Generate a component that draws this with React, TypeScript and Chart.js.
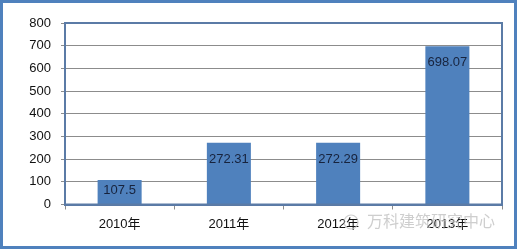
import React, { useEffect, useRef } from "react";
import { Chart, registerables } from "chart.js";

Chart.register(...registerables);

const categories = ["2010年", "2011年", "2012年", "2013年"];
const values = [107.5, 272.31, 272.29, 698.07];
const valueLabels = ["107.5", "272.31", "272.29", "698.07"];
const yTicks = [0, 100, 200, 300, 400, 500, 600, 700, 800];
const watermark = "万科建筑研究中心";

const FONT = '"Liberation Sans", "Noto Sans CJK SC", sans-serif';

const framePlugin = {
  id: "framePlugin",
  afterDatasetsDraw(chart: any) {
    const { ctx, chartArea } = chart;
    const meta = chart.getDatasetMeta(0);
    const base = chart.scales.y.getPixelForValue(0);
    ctx.save();
    ctx.font = `13px ${FONT}`;
    ctx.fillStyle = "#17233d";
    ctx.textAlign = "center";
    ctx.textBaseline = "middle";
    meta.data.forEach((bar: any, i: number) => {
      const y = Math.min(bar.y + 16.5, base - 14);
      ctx.fillText(valueLabels[i], bar.x, y);
    });
    ctx.restore();
  },
  afterDraw(chart: any) {
    const { ctx, chartArea } = chart;
    ctx.save();
    ctx.strokeStyle = "#5B7BA6";
    ctx.lineWidth = 2;
    ctx.strokeRect(
      chartArea.left,
      chartArea.top,
      chartArea.right - chartArea.left,
      chartArea.bottom - chartArea.top
    );
    // watermark
    ctx.font = `16px ${FONT}`;
    ctx.fillStyle = "rgba(190,190,190,0.75)";
    ctx.textAlign = "left";
    ctx.textBaseline = "middle";
    ctx.fillText(watermark, 364, 220);
    ctx.strokeStyle = "rgba(190,190,190,0.75)";
    ctx.lineWidth = 1.2;
    ctx.beginPath();
    ctx.arc(348, 219, 7, 0, Math.PI * 2);
    ctx.stroke();
    ctx.restore();
  },
};

export default function App() {
  const ref = useRef<HTMLCanvasElement | null>(null);
  useEffect(() => {
    document.body.style.margin = "0";
    if (!ref.current) return;
    const chart = new Chart(ref.current, {
      type: "bar",
      data: {
        labels: categories,
        datasets: [
          {
            data: values,
            backgroundColor: "#4F81BD",
            borderWidth: 0,
            barPercentage: 0.403,
            categoryPercentage: 1,
          },
        ],
      },
      options: {
        animation: false,
        responsive: false,
        maintainAspectRatio: false,
        devicePixelRatio: 1,
        layout: { padding: { left: 0, top: 20, right: 12, bottom: 0 } },
        plugins: {
          legend: { display: false },
          tooltip: { enabled: false },
        },
        scales: {
          x: {
            offset: true,
            grid: {
              offset: true,
              drawOnChartArea: false,
              drawTicks: true,
              tickLength: 5,
              color: "#8c8c8c",
            },
            border: { color: "#5B7BA6", width: 2 },
            ticks: {
              color: "#111",
              font: { size: 13, family: FONT },
              padding: 7,
              maxRotation: 0,
            },
            afterFit(scale: any) {
              scale.height = 41.5;
            },
          },
          y: {
            min: 0,
            max: 800,
            afterBuildTicks(scale: any) {
              scale.ticks = yTicks.map((v) => ({ value: v }));
            },
            grid: {
              color: "#8c8c8c",
              lineWidth: 1,
              drawTicks: true,
              tickLength: 4,
            },
            border: { color: "#5B7BA6", width: 2 },
            ticks: {
              color: "#111",
              font: { size: 13, family: FONT },
              padding: 10,
            },
            afterFit(scale: any) {
              scale.width = 62;
            },
          },
        },
      },
      plugins: [framePlugin],
    });
    return () => chart.destroy();
  }, []);
  return (
    <div
      style={{
        width: 517,
        height: 249,
        boxSizing: "border-box",
        border: "3px solid #4F81BD",
        background: "#fff",
      }}
    >
      <canvas ref={ref} width={511} height={243} style={{ display: "block" }} />
    </div>
  );
}
